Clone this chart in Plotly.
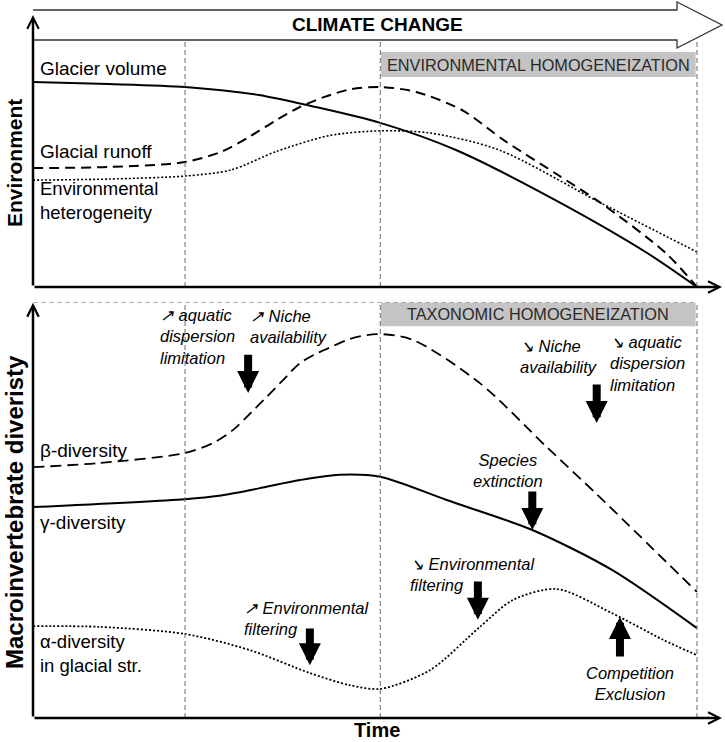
import plotly.graph_objects as go

# time runs 0..100 (start .. glacier gone), levels are relative 0..100
phase_t = [22.9, 52.3, 100]

glacier_t = [0, 11.4, 22.9, 34.0, 42.0, 52.3, 63.7, 78.6, 92.5, 100]
glacier_v = [74.8, 74.1, 73.0, 70.1, 66.0, 59.9, 50.0, 31.8, 12.4, 0]

runoff_t = [0, 11.4, 22.9, 28.5, 32.7, 36.7, 40.2, 43.8, 47.9, 52.3, 57.7, 64.6, 70.9, 78.6, 85.5, 95.3, 100]
runoff_v = [43.4, 43.8, 45.6, 49.5, 55.0, 61.0, 65.7, 69.3, 72.2, 73.0, 71.2, 64.6, 53.6, 41.6, 30.7, 12.4, 0]

hetero_t = [0, 11.4, 22.9, 29.8, 36.7, 44.7, 52.3, 59.8, 70.2, 85.5, 100]
hetero_v = [39.0, 39.4, 40.5, 42.7, 49.5, 55.3, 57.0, 56.2, 50.0, 30.7, 12.8]

beta_t = [0, 10.1, 22.9, 27.1, 30.1, 32.2, 35.2, 37.7, 40.2, 42.8, 45.2, 47.7, 51.8, 57.2, 67.3, 77.4, 84.9, 100]
beta_v = [60.3, 61.3, 63.7, 66.1, 69.2, 72.4, 77.2, 81.3, 85.3, 87.7, 89.4, 91.1, 92.3, 90.9, 80.5, 65.1, 53.8, 30.3]

gamma_t = [0, 22.9, 28.0, 34.0, 40.2, 46.2, 52.3, 62.3, 75.2, 87.2, 100]
gamma_v = [50.7, 52.6, 53.4, 55.2, 57.2, 58.5, 58.0, 52.4, 45.2, 35.6, 21.6]

alpha_t = [0, 10.1, 22.9, 32.7, 41.7, 47.7, 52.3, 59.8, 67.3, 72.3, 78.9, 87.2, 94.9, 100]
alpha_v = [22.1, 21.9, 20.2, 16.3, 10.8, 7.9, 7.0, 11.5, 21.9, 28.4, 31.0, 25.2, 18.8, 15.1]

FONT = "Liberation Sans, Arial, sans-serif"
W, H = 725, 742
XMAX = 103.77


def px(x, y):
    return x / W, 1 - y / H


fig = go.Figure()


def curve(t, v, dash, width, panel):
    fig.add_trace(go.Scatter(
        x=t, y=v, mode="lines", showlegend=False, hoverinfo="skip",
        xaxis="x" if panel == 1 else "x2", yaxis="y" if panel == 1 else "y2",
        line=dict(color="black", width=width, dash=dash, shape="spline", smoothing=0.8)))


curve(glacier_t, glacier_v, "solid", 2, 1)
curve(runoff_t, runoff_v, "10px,6px", 2, 1)
curve(hetero_t, hetero_v, "2px,2px", 1.6, 1)
curve(beta_t, beta_v, "11px,6px", 1.8, 2)
curve(gamma_t, gamma_v, "solid", 2, 2)
curve(alpha_t, alpha_v, "2px,2px", 1.8, 2)

shapes = []
grey = dict(color="#666666", width=1, dash="5px,3px")
for t in phase_t:
    shapes.append(dict(type="line", xref="x", yref="y", x0=t, x1=t, y0=0, y1=90.1, line=grey))
    shapes.append(dict(type="line", xref="x2", yref="y2", x0=t, x1=t, y0=0, y1=100, line=grey))
shapes.append(dict(type="line", xref="x2", yref="y2", x0=0, x1=100, y0=100, y1=100, line=grey))

# grey homogenization boxes
shapes.append(dict(type="rect", xref="x", yref="y", x0=52.4, x1=99.8, y0=76.6, y1=85.8,
                   fillcolor="#c4c4c4", line=dict(width=0), layer="below"))
shapes.append(dict(type="rect", xref="x2", yref="y2", x0=52.4, x1=99.8, y0=94.2, y1=99.8,
                   fillcolor="#c4c4c4", line=dict(width=0), layer="below"))

# climate change outline arrow
pts = [(33, 10), (677, 10), (677, 2), (722, 25), (677, 48), (677, 40), (33, 40)]
path = "M " + " L ".join("%.5f,%.5f" % px(x, y) for x, y in pts)
shapes.append(dict(type="path", xref="paper", yref="paper", path=path,
                   line=dict(color="#333333", width=1.3)))

ann = []


def arrow(xr, yr, x, y, ax, ay, head, width, size):
    ann.append(dict(xref=xr, yref=yr, axref=xr, ayref=yr, x=x, y=y, ax=ax, ay=ay, text="",
                    showarrow=True, arrowhead=head, arrowwidth=width, arrowsize=size,
                    arrowcolor="black"))


# axes with arrow heads
arrow("x", "y", 0, 99.3, 0, 0, 5, 2.5, 0.9)
arrow("x", "y", XMAX, 0, 0, 0, 5, 2.5, 0.9)
arrow("x2", "y2", 0, 99.8, 0, 0, 5, 2.5, 0.9)
arrow("x2", "y2", XMAX, 0, 0, 0, 5, 2.5, 0.9)

# process arrows (tip, tail)
for x, y, ay in [(32.4, 78.1, 87.7), (84.9, 70.9, 80.5), (75.2, 45.2, 54.8),
                 (41.7, 12.7, 21.9), (67.0, 23.6, 33.2), (88.4, 24.3, 14.4)]:
    arrow("x2", "y2", x, y, x, ay, 2, 8, 0.55)


def text(xr, yr, x, y, s, size=19, xanchor="left", align="left", color="black", yanchor="middle"):
    ann.append(dict(xref=xr, yref=yr, x=x, y=y, text=s, showarrow=False, xanchor=xanchor,
                    yanchor=yanchor, align=align, font=dict(family=FONT, size=size, color=color)))


# curve labels
text("x", "y", 0.75, 79.9, "Glacier volume")
text("x", "y", 0.75, 49.3, "Glacial runoff")
text("x", "y", 0.75, 31.4, "Environmental<br>heterogeneity", size=18.5)
text("x2", "y2", 0.75, 64.2, "β-diversity")
text("x2", "y2", 0.75, 46.9, "γ-diversity")
text("x2", "y2", 0.75, 15.4, "α-diversity<br>in glacial str.", size=18.5)

text("x", "y", 76.1, 81.2, "ENVIRONMENTAL HOMOGENEIZATION", size=16.3, xanchor="center", color="#2a2a2a")
text("x2", "y2", 76.1, 97.0, "TAXONOMIC HOMOGENEIZATION", size=16.3, xanchor="center", color="#2a2a2a")

# mechanisms
it = 16.5
text("x2", "y2", 18.8, 91.6, "<i>↗ aquatic<br>dispersion<br>limitation</i>", size=it)
text("x2", "y2", 32.4, 94.1, "<i>↗ Niche<br>availability</i>", size=it)
text("x2", "y2", 73.0, 87.0, "<i>↘ Niche<br>availability</i>", size=it)
text("x2", "y2", 86.6, 85.1, "<i>↘ aquatic<br>dispersion<br>limitation</i>", size=it)
text("x2", "y2", 71.5, 59.6, "<i>Species<br>extinction</i>", size=it, xanchor="center", align="center")
text("x2", "y2", 31.5, 24.0, "<i>↗ Environmental<br>filtering</i>", size=it)
text("x2", "y2", 56.5, 34.4, "<i>↘ Environmental<br>filtering</i>", size=it)
text("x2", "y2", 89.9, 8.2, "<i>Competition<br>Exclusion</i>", size=it, xanchor="center", align="center")

# titles
x0, y0 = px(378, 25)
text("paper", "paper", x0, y0, "<b>CLIMATE CHANGE</b>", size=19, xanchor="center")
x0, y0 = px(377, 742)
ann.append(dict(xref="paper", yref="paper", x=x0, y=y0, text="<b>Time</b>", showarrow=False,
                xanchor="center", yanchor="bottom", borderpad=0,
                font=dict(family=FONT, size=20, color="black")))
for label, yc, size in [("Environment", 163, 21), ("Macroinvertebrate diveristy", 512, 24)]:
    x0, y0 = px(14, yc)
    ann.append(dict(xref="paper", yref="paper", x=x0, y=y0, text="<b>%s</b>" % label,
                    textangle=-90, showarrow=False, xanchor="center", yanchor="middle",
                    font=dict(family=FONT, size=size, color="black")))

axis = dict(visible=False, showgrid=False, zeroline=False, fixedrange=True)
fig.update_layout(
    width=W, height=H, margin=dict(l=0, r=0, t=0, b=0),
    paper_bgcolor="white", plot_bgcolor="white",
    xaxis=dict(axis, domain=[33 / W, 722 / W], range=[0, XMAX], anchor="y"),
    yaxis=dict(axis, domain=[1 - 287 / H, 1 - 13 / H], range=[0, 100], anchor="x"),
    xaxis2=dict(axis, domain=[33 / W, 722 / W], range=[0, XMAX], anchor="y2"),
    yaxis2=dict(axis, domain=[1 - 718 / H, 1 - 302 / H], range=[0, 100], anchor="x2"),
    shapes=shapes, annotations=ann, font=dict(family=FONT),
)

# page body has an 8px default margin; drop it so the figure fills the window
fig.write_html("out.html", config={"displayModeBar": False},
               post_script="document.body.style.margin='0';document.body.style.overflow='hidden';")
